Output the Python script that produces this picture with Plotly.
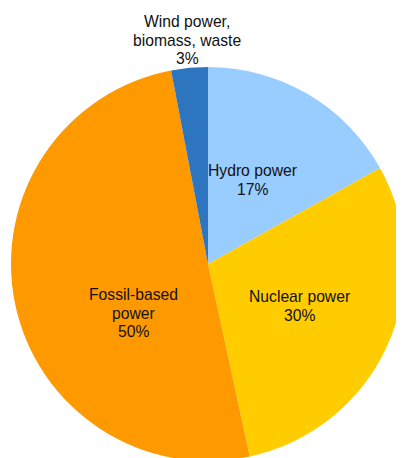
import plotly.graph_objects as go

# ---- data ----
labels = ["Hydro power", "Nuclear power", "Fossil-based power", "Wind power, biomass, waste"]
values = [16.9, 29.7, 50.4, 3.0]

# ---- style / layout ----
colors = ["#99CCFF", "#FFCC00", "#FF9900", "#2E75C0"]
label_lines = [["Hydro power"], ["Nuclear power"], ["Fossil-based", "power"],
               ["Wind power,", "biomass, waste"]]
# label anchor (screen px): centre x, baseline of first line
label_anchor = [(252, 176), (299, 302), (133, 300), (187, 27)]
line_gap = 18.3
font_size = 15.7
font_family = "Liberation Sans, Arial, sans-serif"

W, H = 404, 458
ML, MR, MT, MB = 3, 7, 59, 5
OFF = 8  # page body offset
px0, py0 = OFF + ML, OFF + MT
pw, ph = W - ML - MR, H - MT - MB

total = sum(values)
pct = [f"{round(v / total * 100):.0f}%" for v in values]

fig = go.Figure(go.Pie(
    labels=labels,
    values=values,
    sort=False,
    direction="clockwise",
    rotation=0,
    marker=dict(colors=colors, line=dict(width=0)),
    textinfo="none",
    showlegend=False,
    hoverinfo="label+percent",
))

annotations = []
for lines, p, (cx, by) in zip(label_lines, pct, label_anchor):
    for i, t in enumerate(lines + [p]):
        base = by + i * line_gap
        ymid = base - 0.32 * font_size
        annotations.append(dict(
            text=t, showarrow=False,
            xref="paper", yref="paper",
            x=(cx - px0) / pw, y=1 - (ymid - py0) / ph,
            xanchor="center", yanchor="middle",
            font=dict(family=font_family, size=font_size, color="#111111"),
        ))

fig.update_layout(
    width=W,
    height=H,
    margin=dict(l=ML, r=MR, t=MT, b=MB, autoexpand=False),
    paper_bgcolor="white",
    plot_bgcolor="white",
    annotations=annotations,
)

fig.write_html("out.html")
